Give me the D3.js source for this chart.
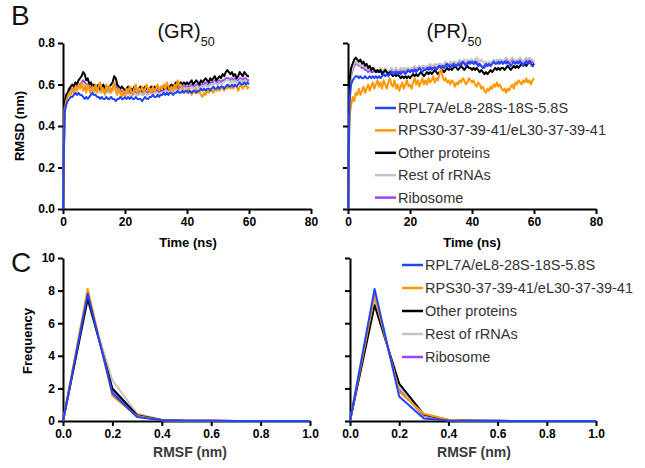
<!DOCTYPE html>
<html>
<head>
<meta charset="utf-8">
<script src="https://cdn.jsdelivr.net/npm/d3@7"></script>
<style>
  body { margin: 0; background: #fff; }
  svg { font-family: "Liberation Sans", Arial, sans-serif; }
</style>
</head>
<body>
<svg id="fig" width="645" height="468"></svg>
<script>
// ---- data ----
const seriesNames = ["RPL7A/eL8-28S-18S-5.8S", "RPS30-37-39-41/eL30-37-39-41", "Other proteins", "Rest of rRNAs", "Ribosome"];
const seriesColors = ["#1f45ff", "#ff9800", "#000000", "#c4c4c4", "#9b45f5"];

// RMSD sampled every 0.5 ns, 0..60 ns
const timeNs = [0,0.5,1,1.5,2,2.5,3,3.5,4,4.5,5,5.5,6,6.5,7,7.5,8,8.5,9,9.5,
  10,10.5,11,11.5,12,12.5,13,13.5,14,14.5,15,15.5,16,16.5,17,17.5,18,18.5,19,19.5,
  20,20.5,21,21.5,22,22.5,23,23.5,24,24.5,25,25.5,26,26.5,27,27.5,28,28.5,29,29.5,
  30,30.5,31,31.5,32,32.5,33,33.5,34,34.5,35,35.5,36,36.5,37,37.5,38,38.5,39,39.5,
  40,40.5,41,41.5,42,42.5,43,43.5,44,44.5,45,45.5,46,46.5,47,47.5,48,48.5,49,49.5,
  50,50.5,51,51.5,52,52.5,53,53.5,54,54.5,55,55.5,56,56.5,57,57.5,58,58.5,59,59.5,60];

// (GR)50
const grBlue = [0,0.46,0.50,0.52,0.53,0.54,0.54,0.55,0.56,0.55,
  0.56,0.55,0.55,0.54,0.53,0.54,0.53,0.54,0.55,0.56,
  0.55,0.55,0.54,0.54,0.53,0.54,0.53,0.53,0.54,0.53,
  0.53,0.54,0.53,0.53,0.52,0.53,0.53,0.54,0.53,0.53,
  0.54,0.53,0.54,0.53,0.54,0.53,0.53,0.54,0.53,0.53,
  0.53,0.52,0.53,0.54,0.53,0.53,0.54,0.54,0.55,0.54,
  0.54,0.55,0.54,0.55,0.55,0.56,0.55,0.56,0.55,0.56,
  0.56,0.55,0.56,0.56,0.57,0.56,0.56,0.57,0.56,0.57,
  0.57,0.56,0.57,0.56,0.57,0.57,0.56,0.57,0.57,0.58,
  0.57,0.58,0.57,0.58,0.58,0.57,0.58,0.59,0.58,0.58,
  0.59,0.58,0.59,0.59,0.58,0.59,0.60,0.59,0.59,0.60,
  0.59,0.60,0.59,0.60,0.61,0.60,0.60,0.61,0.60,0.61,0.60];
const grOrange = [0,0.47,0.52,0.54,0.56,0.55,0.58,0.56,0.59,0.57,
  0.60,0.58,0.61,0.57,0.59,0.56,0.60,0.58,0.55,0.59,
  0.57,0.60,0.56,0.59,0.61,0.57,0.58,0.55,0.60,0.57,
  0.59,0.56,0.58,0.61,0.57,0.55,0.58,0.56,0.54,0.57,
  0.55,0.58,0.56,0.59,0.57,0.55,0.58,0.60,0.56,0.58,
  0.57,0.59,0.56,0.58,0.60,0.57,0.58,0.56,0.59,0.57,
  0.58,0.60,0.57,0.59,0.58,0.60,0.58,0.61,0.59,0.57,
  0.59,0.57,0.60,0.58,0.62,0.59,0.60,0.58,0.56,0.57,
  0.56,0.58,0.57,0.55,0.57,0.56,0.58,0.56,0.57,0.55,
  0.54,0.56,0.55,0.57,0.56,0.58,0.57,0.56,0.58,0.57,
  0.58,0.57,0.59,0.58,0.57,0.59,0.58,0.60,0.58,0.59,
  0.58,0.60,0.59,0.57,0.59,0.60,0.58,0.59,0.60,0.58,0.59];
const grBlack = [0,0.50,0.55,0.56,0.58,0.59,0.60,0.59,0.61,0.60,
  0.62,0.63,0.64,0.66,0.65,0.62,0.63,0.60,0.61,0.59,
  0.60,0.58,0.59,0.60,0.58,0.59,0.60,0.58,0.59,0.58,
  0.59,0.60,0.61,0.64,0.63,0.60,0.59,0.58,0.59,0.58,
  0.57,0.58,0.59,0.57,0.58,0.57,0.59,0.58,0.57,0.58,
  0.59,0.57,0.58,0.59,0.58,0.57,0.58,0.59,0.58,0.59,
  0.58,0.59,0.57,0.58,0.59,0.58,0.59,0.60,0.58,0.59,
  0.60,0.59,0.60,0.61,0.59,0.60,0.61,0.60,0.61,0.60,
  0.61,0.60,0.61,0.62,0.60,0.61,0.62,0.61,0.60,0.62,
  0.61,0.62,0.63,0.62,0.61,0.63,0.62,0.63,0.64,0.62,
  0.63,0.64,0.63,0.65,0.64,0.66,0.67,0.66,0.65,0.66,
  0.64,0.65,0.63,0.64,0.66,0.65,0.64,0.66,0.65,0.64,0.64];
const grGrey = [0,0.48,0.53,0.54,0.56,0.57,0.57,0.57,0.58,0.58,
  0.59,0.59,0.60,0.60,0.60,0.59,0.59,0.57,0.58,0.57,
  0.57,0.56,0.57,0.57,0.56,0.56,0.57,0.56,0.56,0.56,
  0.56,0.57,0.57,0.58,0.58,0.57,0.56,0.56,0.56,0.55,
  0.55,0.55,0.56,0.55,0.55,0.55,0.56,0.55,0.55,0.55,
  0.56,0.55,0.55,0.56,0.55,0.55,0.56,0.56,0.55,0.56,
  0.56,0.56,0.55,0.56,0.56,0.56,0.57,0.57,0.56,0.57,
  0.57,0.57,0.57,0.58,0.57,0.57,0.58,0.58,0.58,0.58,
  0.58,0.58,0.58,0.59,0.58,0.58,0.59,0.59,0.58,0.59,
  0.59,0.59,0.60,0.59,0.59,0.60,0.60,0.60,0.61,0.60,
  0.60,0.61,0.60,0.61,0.61,0.62,0.62,0.62,0.61,0.62,
  0.61,0.62,0.61,0.61,0.62,0.62,0.61,0.62,0.62,0.61,0.61];
const grPurple = [0,0.49,0.54,0.55,0.57,0.58,0.58,0.58,0.59,0.59,
  0.60,0.60,0.61,0.62,0.61,0.60,0.60,0.58,0.59,0.58,
  0.58,0.57,0.58,0.58,0.57,0.57,0.58,0.57,0.57,0.57,
  0.57,0.58,0.58,0.60,0.60,0.58,0.57,0.57,0.57,0.56,
  0.56,0.56,0.57,0.56,0.56,0.56,0.57,0.56,0.56,0.56,
  0.57,0.56,0.56,0.57,0.56,0.56,0.57,0.57,0.56,0.57,
  0.57,0.57,0.56,0.57,0.57,0.57,0.58,0.58,0.57,0.58,
  0.58,0.58,0.58,0.59,0.58,0.58,0.59,0.59,0.59,0.59,
  0.59,0.59,0.59,0.60,0.59,0.59,0.60,0.60,0.59,0.60,
  0.60,0.60,0.61,0.60,0.60,0.61,0.61,0.61,0.62,0.61,
  0.61,0.62,0.61,0.62,0.62,0.63,0.63,0.63,0.62,0.63,
  0.62,0.63,0.62,0.62,0.63,0.63,0.62,0.63,0.63,0.62,0.62];

// (PR)50
const prBlue = [0,0.52,0.60,0.62,0.63,0.64,0.64,0.63,0.64,0.63,
  0.63,0.64,0.63,0.63,0.64,0.63,0.64,0.63,0.64,0.63,
  0.64,0.63,0.64,0.65,0.64,0.65,0.64,0.65,0.66,0.65,
  0.65,0.66,0.65,0.66,0.65,0.66,0.66,0.65,0.66,0.67,
  0.66,0.67,0.66,0.67,0.66,0.67,0.68,0.67,0.66,0.67,
  0.67,0.68,0.67,0.68,0.67,0.68,0.68,0.67,0.68,0.69,
  0.68,0.69,0.68,0.69,0.70,0.69,0.68,0.69,0.70,0.69,
  0.69,0.70,0.69,0.70,0.71,0.70,0.69,0.70,0.71,0.70,
  0.71,0.70,0.71,0.70,0.69,0.70,0.69,0.68,0.69,0.70,
  0.69,0.70,0.69,0.70,0.71,0.70,0.70,0.71,0.70,0.71,
  0.70,0.71,0.70,0.71,0.70,0.69,0.70,0.71,0.70,0.71,
  0.70,0.71,0.70,0.69,0.70,0.71,0.70,0.71,0.70,0.69,0.69];
const prOrange = [0,0.45,0.50,0.54,0.52,0.56,0.55,0.58,0.55,0.57,
  0.59,0.56,0.58,0.60,0.57,0.59,0.61,0.58,0.60,0.62,
  0.59,0.61,0.58,0.62,0.60,0.58,0.61,0.63,0.60,0.59,
  0.62,0.58,0.60,0.57,0.59,0.61,0.58,0.60,0.62,0.59,
  0.60,0.58,0.61,0.63,0.60,0.62,0.59,0.61,0.63,0.60,
  0.62,0.60,0.63,0.61,0.62,0.64,0.61,0.63,0.62,0.65,
  0.68,0.64,0.62,0.63,0.61,0.62,0.60,0.62,0.61,0.59,
  0.61,0.60,0.62,0.61,0.63,0.62,0.60,0.61,0.63,0.62,
  0.61,0.62,0.60,0.59,0.61,0.60,0.58,0.59,0.57,0.56,
  0.58,0.57,0.59,0.58,0.60,0.59,0.61,0.59,0.60,0.58,
  0.57,0.58,0.56,0.58,0.57,0.59,0.60,0.58,0.61,0.60,
  0.62,0.61,0.60,0.62,0.61,0.63,0.61,0.62,0.60,0.62,0.63];
const prBlack = [0,0.62,0.68,0.70,0.72,0.73,0.72,0.71,0.72,0.70,
  0.71,0.69,0.70,0.68,0.69,0.67,0.68,0.67,0.66,0.67,
  0.66,0.67,0.65,0.66,0.67,0.66,0.65,0.66,0.65,0.64,
  0.65,0.64,0.65,0.64,0.63,0.64,0.63,0.64,0.63,0.64,
  0.63,0.64,0.65,0.64,0.65,0.64,0.65,0.66,0.65,0.64,
  0.65,0.66,0.65,0.66,0.65,0.66,0.67,0.66,0.65,0.66,
  0.66,0.67,0.66,0.67,0.68,0.67,0.68,0.67,0.68,0.69,
  0.68,0.67,0.68,0.69,0.68,0.67,0.68,0.69,0.68,0.68,
  0.67,0.68,0.67,0.68,0.67,0.66,0.67,0.66,0.65,0.66,
  0.65,0.66,0.67,0.66,0.67,0.68,0.67,0.68,0.67,0.68,
  0.68,0.67,0.68,0.69,0.68,0.67,0.68,0.69,0.68,0.69,
  0.68,0.69,0.70,0.69,0.70,0.69,0.70,0.71,0.70,0.69,0.70];
const prGrey = [0,0.58,0.65,0.68,0.70,0.71,0.70,0.70,0.69,0.69,
  0.69,0.68,0.68,0.67,0.68,0.67,0.67,0.68,0.67,0.67,
  0.67,0.68,0.67,0.67,0.68,0.67,0.66,0.67,0.68,0.67,
  0.67,0.68,0.67,0.67,0.68,0.67,0.68,0.67,0.68,0.68,
  0.67,0.68,0.68,0.69,0.68,0.68,0.69,0.68,0.69,0.69,
  0.68,0.69,0.69,0.70,0.69,0.69,0.70,0.69,0.70,0.70,
  0.70,0.69,0.70,0.71,0.70,0.70,0.71,0.70,0.71,0.71,
  0.70,0.71,0.72,0.71,0.71,0.72,0.71,0.72,0.71,0.72,
  0.72,0.71,0.72,0.73,0.72,0.71,0.72,0.71,0.70,0.71,
  0.70,0.71,0.70,0.71,0.72,0.71,0.72,0.71,0.72,0.72,
  0.71,0.72,0.73,0.72,0.71,0.72,0.73,0.72,0.71,0.72,
  0.72,0.73,0.72,0.71,0.72,0.73,0.72,0.73,0.72,0.72,0.71];
const prPurple = [0,0.57,0.64,0.67,0.69,0.70,0.70,0.69,0.69,0.68,
  0.68,0.67,0.67,0.66,0.67,0.66,0.66,0.67,0.66,0.66,
  0.66,0.67,0.66,0.66,0.67,0.66,0.65,0.66,0.67,0.66,
  0.66,0.67,0.66,0.66,0.67,0.66,0.67,0.66,0.67,0.67,
  0.66,0.67,0.67,0.68,0.67,0.67,0.68,0.67,0.68,0.68,
  0.67,0.68,0.68,0.69,0.68,0.68,0.69,0.68,0.69,0.69,
  0.69,0.68,0.69,0.70,0.69,0.69,0.70,0.69,0.70,0.70,
  0.69,0.70,0.71,0.70,0.70,0.71,0.70,0.71,0.70,0.71,
  0.71,0.70,0.70,0.71,0.70,0.69,0.69,0.68,0.68,0.69,
  0.69,0.70,0.69,0.70,0.71,0.70,0.71,0.70,0.71,0.71,
  0.70,0.71,0.72,0.71,0.70,0.71,0.72,0.71,0.70,0.71,
  0.71,0.72,0.71,0.70,0.71,0.72,0.71,0.72,0.71,0.71,0.70];

// RMSF histograms
const rmsfBins = [0, 0.1, 0.2, 0.3, 0.4, 0.5, 0.6, 0.7, 0.8, 0.9, 1.0];
const grFreqBlue   = [0, 7.8, 1.7, 0.25, 0.05, 0.02, 0.01, 0, 0, 0, 0];
const grFreqOrange = [0, 8.1, 1.55, 0.3, 0.05, 0.02, 0.01, 0, 0, 0, 0];
const grFreqBlack  = [0, 7.5, 2.0, 0.35, 0.06, 0.02, 0.01, 0, 0, 0, 0];
const grFreqGrey   = [0, 7.4, 2.5, 0.45, 0.08, 0.02, 0.01, 0, 0, 0, 0];
const grFreqPurple = [0, 7.7, 1.9, 0.3, 0.05, 0.02, 0.01, 0, 0, 0, 0];
const prFreqBlue   = [0, 8.1, 1.5, 0.15, 0.03, 0.01, 0, 0, 0, 0, 0];
const prFreqOrange = [0, 7.7, 1.8, 0.45, 0.08, 0.02, 0.01, 0, 0, 0, 0];
const prFreqBlack  = [0, 7.1, 2.3, 0.4, 0.06, 0.02, 0.01, 0, 0, 0, 0];
const prFreqGrey   = [0, 7.3, 2.1, 0.35, 0.05, 0.02, 0.01, 0, 0, 0, 0];
const prFreqPurple = [0, 7.5, 1.95, 0.3, 0.05, 0.02, 0.01, 0, 0, 0, 0];

const timeTicks = [0, 20, 40, 60, 80];
const rmsdTicks = [0, 0.2, 0.4, 0.6, 0.8];
const rmsfTicks = [0, 0.2, 0.4, 0.6, 0.8, 1.0];
const freqTicks = [0, 2, 4, 6, 8, 10];

const svg = d3.select("#fig");

function styleAxis(g) {
  g.select(".domain").attr("stroke", "#000").attr("stroke-width", 2);
  g.selectAll(".tick line").attr("stroke", "#000").attr("stroke-width", 2);
  g.selectAll(".tick text")
    .attr("fill", "#000")
    .style("font-size", "12px")
    .style("font-weight", "bold")
    .style("font-family", "'Liberation Sans', Arial, sans-serif");
}

// one panel: axes + lines
function drawPanel(opt) {
  const x = d3.scaleLinear().domain(opt.xDomain).range([opt.left, opt.right]);
  const y = d3.scaleLinear().domain(opt.yDomain).range([opt.bottom, opt.top]);

  const xAxis = svg.append("g")
    .attr("transform", `translate(0,${opt.bottom})`)
    .call(d3.axisBottom(x).tickValues(opt.xTicks).tickFormat(opt.xFormat)
      .tickSize(5).tickSizeOuter(0).tickPadding(3));
  styleAxis(xAxis);

  const yAxis = svg.append("g")
    .attr("transform", `translate(${opt.left},0)`)
    .call(d3.axisLeft(y).tickValues(opt.yTicks).tickFormat(opt.showY ? opt.yFormat : "")
      .tickSize(5).tickSizeOuter(0).tickPadding(3));
  styleAxis(yAxis);

  const line = d3.line()
    .x((d) => x(d[0]))
    .y((d) => y(d[1]));

  // drawn in reverse legend order so blue ends on top
  for (let i = opt.series.length - 1; i >= 0; i--) {
    const pts = opt.xs.map((v, k) => [v, opt.series[i][k]]);
    svg.append("path")
      .datum(pts)
      .attr("fill", "none")
      .attr("stroke", seriesColors[i])
      .attr("stroke-width", opt.lineWidth)
      .attr("stroke-linejoin", "round")
      .attr("d", line);
  }
}

function legend(x0, y0, gap) {
  const g = svg.append("g");
  seriesNames.forEach((name, i) => {
    const yy = y0 + i * gap;
    g.append("line")
      .attr("x1", x0).attr("x2", x0 + 21)
      .attr("y1", yy).attr("y2", yy)
      .attr("stroke", seriesColors[i])
      .attr("stroke-width", 2.5);
    g.append("text")
      .attr("x", x0 + 23).attr("y", yy + 5)
      .attr("fill", "#333")
      .style("font-size", "14.5px")
      .text(name);
  });
}

function title(cx, y, main) {
  const t = svg.append("text")
    .attr("x", cx).attr("y", y)
    .attr("text-anchor", "middle")
    .style("font-size", "20px")
    .attr("fill", "#111");
  t.append("tspan").text(main);
  t.append("tspan").attr("dy", 8).style("font-size", "12.5px").text("50");
}

function label(x, y, text, size, rotate, color) {
  svg.append("text")
    .attr("transform", `translate(${x},${y})` + (rotate ? " rotate(-90)" : ""))
    .attr("text-anchor", "middle")
    .attr("fill", color || "#000")
    .style("font-size", size + "px")
    .style("font-weight", "bold")
    .text(text);
}

// ---- panel B ----
drawPanel({ left: 63, right: 311, top: 43, bottom: 209, xDomain: [0, 80], yDomain: [0, 0.8],
  xTicks: timeTicks, yTicks: rmsdTicks, xFormat: d3.format("d"), yFormat: d3.format(".1f"),
  showY: true, xs: timeNs, lineWidth: 2,
  series: [grBlue, grOrange, grBlack, grGrey, grPurple] });
drawPanel({ left: 348, right: 596, top: 43, bottom: 209, xDomain: [0, 80], yDomain: [0, 0.8],
  xTicks: timeTicks, yTicks: rmsdTicks, xFormat: d3.format("d"), yFormat: d3.format(".1f"),
  showY: false, xs: timeNs, lineWidth: 2,
  series: [prBlue, prOrange, prBlack, prGrey, prPurple] });

// ---- panel C ----
drawPanel({ left: 63, right: 310, top: 258, bottom: 421, xDomain: [0, 1], yDomain: [0, 10],
  xTicks: rmsfTicks, yTicks: freqTicks, xFormat: d3.format(".1f"), yFormat: d3.format("d"),
  showY: true, xs: rmsfBins, lineWidth: 2,
  series: [grFreqBlue, grFreqOrange, grFreqBlack, grFreqGrey, grFreqPurple] });
drawPanel({ left: 350, right: 596, top: 258, bottom: 421, xDomain: [0, 1], yDomain: [0, 10],
  xTicks: rmsfTicks, yTicks: freqTicks, xFormat: d3.format(".1f"), yFormat: d3.format("d"),
  showY: false, xs: rmsfBins, lineWidth: 2,
  series: [prFreqBlue, prFreqOrange, prFreqBlack, prFreqGrey, prFreqPurple] });

// titles, labels, legends
title(186, 38, "(GR)");
title(454, 38, "(PR)");
svg.append("text").attr("x", 11).attr("y", 25).style("font-size", "28px").attr("fill", "#111").text("B");
svg.append("text").attr("x", 11).attr("y", 272).style("font-size", "28px").attr("fill", "#111").text("C");

label(24, 126, "RMSD (nm)", 13, true);
label(188, 247, "Time (ns)", 13, false);
label(472, 247, "Time (ns)", 13, false);
label(32, 341, "Frequency", 13, true);
label(190, 457, "RMSF (nm)", 14, false, "#3a3a3a");
label(474, 457, "RMSF (nm)", 14, false, "#3a3a3a");

legend(375, 108, 22.4);
legend(402, 265, 23);
</script>
</body>
</html>
